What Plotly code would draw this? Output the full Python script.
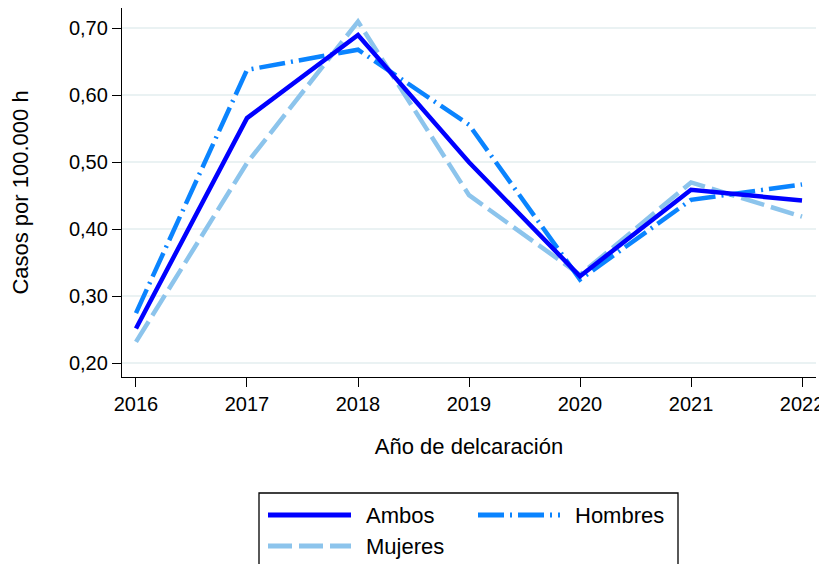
import plotly.graph_objects as go

years = [2016, 2017, 2018, 2019, 2020, 2021, 2022]
ambos = [0.252, 0.566, 0.690, 0.500, 0.330, 0.459, 0.443]
hombres = [0.275, 0.638, 0.668, 0.556, 0.325, 0.444, 0.467]
mujeres = [0.232, 0.499, 0.710, 0.451, 0.332, 0.470, 0.419]
y_ticks = [0.20, 0.30, 0.40, 0.50, 0.60, 0.70]

C_AMBOS = "#0000ff"
C_HOMBRES = "#0a84ff"
C_MUJERES = "#8cc4ec"
DASH_M = "24px,7px"
DASH_H = "26px,6px,2px,6px"
FONT = "Liberation Sans, Arial, sans-serif"

fig = go.Figure()
fig.add_trace(go.Scatter(x=years, y=mujeres, mode="lines", name="Mujeres",
                         line=dict(color=C_MUJERES, width=4.5, dash=DASH_M)))
fig.add_trace(go.Scatter(x=years, y=hombres, mode="lines", name="Hombres",
                         line=dict(color=C_HOMBRES, width=4.5, dash=DASH_H)))
fig.add_trace(go.Scatter(x=years, y=ambos, mode="lines", name="Ambos",
                         line=dict(color=C_AMBOS, width=4.5)))

# The page has an 8px body margin, so the figure is drawn in a smaller frame.
OFF = 8
W, H = 827 - OFF, 564 - OFF
L, R, T, B = 122 - OFF, 11, 0, 187
pw, ph = W - L - R, H - T - B

def px(x):
    return (x - OFF - L) / pw

def py(y):
    return (H - B - (y - OFF)) / ph

shapes = []
annotations = []
# legend box
shapes.append(dict(type="rect", xref="paper", yref="paper",
                   x0=px(259), x1=px(678), y0=py(572), y1=py(493),
                   line=dict(color="black", width=1.3), fillcolor="white", layer="above"))
legend_items = [
    ("Ambos", C_AMBOS, "solid", 268, 351, 515, 364),
    ("Hombres", C_HOMBRES, DASH_H, 478, 560, 515, 573),
    ("Mujeres", C_MUJERES, DASH_M, 268, 351, 546, 364),
]
for name, col, dash, x0, x1, yy, tx in legend_items:
    shapes.append(dict(type="line", xref="paper", yref="paper",
                       x0=px(x0), x1=px(x1), y0=py(yy), y1=py(yy),
                       line=dict(color=col, width=5, dash=dash), layer="above"))
    annotations.append(dict(text=name, xref="paper", yref="paper",
                            x=px(tx), y=py(yy), xanchor="left", yanchor="middle",
                            showarrow=False, font=dict(size=22, color="black", family=FONT)))

fig.update_layout(
    width=W, height=H,
    margin=dict(l=L, r=R, t=T, b=B, autoexpand=False),
    paper_bgcolor="white", plot_bgcolor="white",
    separators=",.",
    showlegend=False,
    font=dict(family=FONT, size=20, color="black"),
    shapes=shapes, annotations=annotations,
    xaxis=dict(
        range=[2015.874, 2022.126], tickmode="array", tickvals=years,
        ticktext=[str(y) for y in years],
        showgrid=False, zeroline=False, automargin=False,
        showline=True, linecolor="black", linewidth=1.3,
        ticks="outside", ticklen=9, tickwidth=1.3, tickcolor="black",
        tickfont=dict(size=20),
        title=dict(text="Año de delcaración", font=dict(size=22), standoff=24),
    ),
    yaxis=dict(
        range=[0.1796, 0.7303], tickmode="array", tickvals=y_ticks,
        tickformat=".2f",
        showgrid=True, gridcolor="#eaf2f3", gridwidth=1.5, zeroline=False,
        automargin=False,
        showline=True, linecolor="black", linewidth=1.3,
        ticks="outside", ticklen=9, tickwidth=1.3, tickcolor="black",
        tickfont=dict(size=20),
        title=dict(text="Casos por 100.000 h", font=dict(size=22), standoff=34),
    ),
)

fig.write_html("out.html")
